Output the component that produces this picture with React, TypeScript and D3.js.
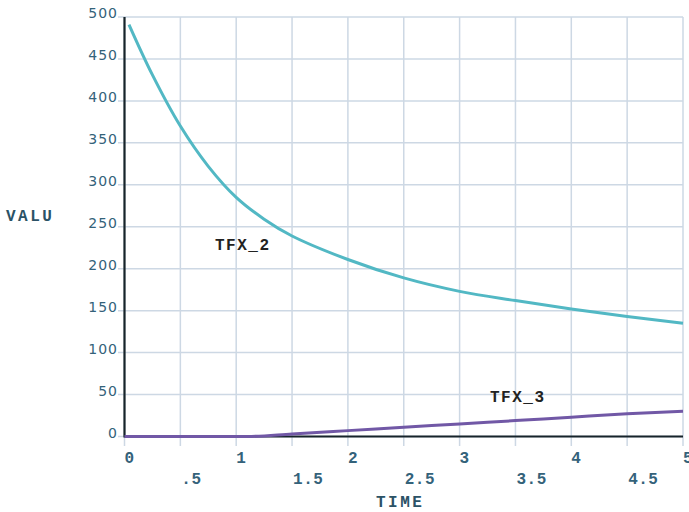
import React from "react";
import * as d3 from "d3";

const tfx2Time = [0.04, 0.25, 0.5, 0.75, 1, 1.25, 1.5, 2, 2.5, 3, 3.5, 4, 4.5, 5];
const tfx2Value = [491, 431, 370, 322, 285, 259, 239, 211, 189, 173, 162, 152, 143, 135];
const tfx3Time = [0, 1.1, 1.5, 2, 2.5, 3, 3.5, 4, 4.5, 5];
const tfx3Value = [0, 0, 3, 7, 11, 15, 19, 23, 27, 30];
const yTicks = [0, 50, 100, 150, 200, 250, 300, 350, 400, 450, 500];
const xIntTicks = [0, 1, 2, 3, 4, 5];
const xHalfTicks = [0.5, 1.5, 2.5, 3.5, 4.5];
const xHalfLabels = [".5", "1.5", "2.5", "3.5", "4.5"];

export default function App() {
  const W = 689, H = 512;
  const x = d3.scaleLinear().domain([0, 5]).range([124.5, 683]);
  const y = d3.scaleLinear().domain([0, 500]).range([436.5, 17]);
  const line = d3
    .line<[number, number]>()
    .x((d) => x(d[0]))
    .y((d) => y(d[1]))
    .curve(d3.curveCatmullRom.alpha(0.5));
  const d2 = line(tfx2Time.map((t, i) => [t, tfx2Value[i]] as [number, number])) || "";
  const d3p = d3
    .line<[number, number]>()
    .x((d) => x(d[0]))
    .y((d) => y(d[1]))
    .curve(d3.curveMonotoneX)(tfx3Time.map((t, i) => [t, tfx3Value[i]] as [number, number])) || "";
  const allX = [...xIntTicks, ...xHalfTicks];
  const tickColor = "#34627a";
  const mono = "'Liberation Mono', 'DejaVu Sans Mono', monospace";
  return (
    <svg
      width={W}
      height={H}
      style={{ position: "absolute", left: 0, top: 0, background: "#fff" }}
    >
      {/* grid */}
      {yTicks.map((t) => (
        <line key={"gy" + t} x1={118} x2={683} y1={y(t)} y2={y(t)} stroke="#cdd8e4" strokeWidth={1.5} />
      ))}
      {allX.map((t) => (
        <line key={"gx" + t} x1={x(t)} x2={x(t)} y1={y(500)} y2={446} stroke="#cdd8e4" strokeWidth={1.5} />
      ))}
      {/* axes */}
      <line x1={x(0)} x2={x(0)} y1={y(500)} y2={y(0) + 1} stroke="#17242a" strokeWidth={2.2} />
      <line x1={x(0)} x2={683} y1={y(0)} y2={y(0)} stroke="#17242a" strokeWidth={2.2} />
      {/* y tick labels */}
      {yTicks.map((t) => (
        <text key={"ly" + t} x={118} y={y(t) + 1} textAnchor="end" fontFamily="'DejaVu Sans', sans-serif" fontSize={14} fill={tickColor} letterSpacing={1}>
          {t}
        </text>
      ))}
      {/* x tick labels */}
      {xIntTicks.map((t) => (
        <text key={"lx" + t} x={x(t)} y={463} fontFamily={mono} fontSize={16} fontWeight="bold" fill={tickColor}>
          {t}
        </text>
      ))}
      {xHalfTicks.map((t, i) => (
        <text key={"lh" + t} x={x(t) + 1} y={484} fontFamily={mono} fontSize={16} fontWeight="bold" fill={tickColor} letterSpacing={0.5}>
          {xHalfLabels[i]}
        </text>
      ))}
      {/* axis titles */}
      <text x={6} y={221} fontFamily={mono} fontSize={16} fontWeight="bold" fill="#2b5266" letterSpacing={2.5}>
        VALU
      </text>
      <text x={376} y={507} fontFamily={mono} fontSize={16} fontWeight="bold" fill="#2b5266" letterSpacing={2.5}>
        TIME
      </text>
      {/* curves */}
      <path d={d2} fill="none" stroke="#52b8c4" strokeWidth={3} />
      <path d={d3p} fill="none" stroke="#7158a6" strokeWidth={3} />
      {/* curve labels */}
      <text x={215} y={250} fontFamily={mono} fontSize={16} fontWeight="bold" fill="#222" letterSpacing={1.5}>
        TFX_2
      </text>
      <text x={490} y={402} fontFamily={mono} fontSize={16} fontWeight="bold" fill="#222" letterSpacing={1.5}>
        TFX_3
      </text>
    </svg>
  );
}
